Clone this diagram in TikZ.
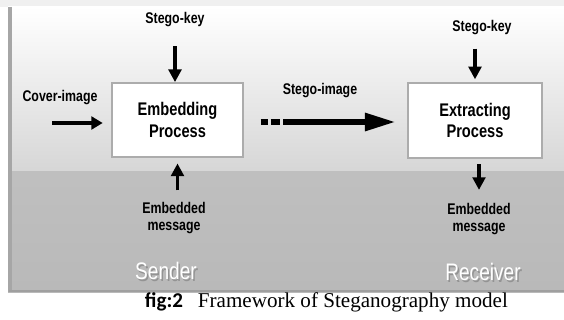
\documentclass[tikz,border=0pt]{standalone}
\usepackage{fontspec}
\usetikzlibrary{arrows.meta,shadows}
\newfontfamily\labfont[FakeStretch=0.8]{Liberation Sans}
\newfontfamily\capserif{Liberation Serif}
\newfontfamily\capsans{Carlito}

\begin{document}
\begin{tikzpicture}[
		x=0.025cm, y=-0.025cm,
		proc/.style={draw=gray!65, line width=1.2pt, fill=white,
			drop shadow={opacity=0.35, shadow xshift=0.8pt, shadow yshift=-0.8pt},
			align=center, font=\labfont\bfseries\fontsize{13}{15}\selectfont},
		lab/.style={align=center, font=\labfont\bfseries\fontsize{11}{12}\selectfont},
		side/.style={text=white, font=\labfont\fontsize{17}{19}\selectfont},
		sideshadow/.style={text=gray!85, font=\labfont\fontsize{17}{19}\selectfont},
		keyarrow/.style={line width=2.3pt, -{Triangle[length=9pt, width=9pt]}},
		coverarrow/.style={line width=2.8pt, -{Triangle[length=8pt, width=9pt]}},
		stegoarrow/.style={line width=4.3pt, -{Triangle[length=22pt, width=12pt]},
			dash pattern=on 5pt off 2pt on 7pt off 2pt on 400pt off 0pt},
		]
		\useasboundingbox (0,0) rectangle (564,320);
		
		%panel
		\fill[gray!12] (0,0) rectangle (564,7);
		\shade[top color=white, bottom color=gray!32] (8,7) rectangle (564,172);
		\shade[top color=gray!50, bottom color=gray!55] (8,172) rectangle (564,292);
		\draw[gray!70, line width=2.2pt] (10,7) -- (10,292);
		\draw[gray!75, line width=1.5pt] (9,291) -- (564,291);
		
		%processes
		\node[proc, minimum width=3.275cm, minimum height=1.85cm] (emb) at (177.5,120) {Embedding\\Process};
		\node[proc, minimum width=3.35cm, minimum height=1.875cm] (ext) at (475,120.5) {Extracting\\Process};
		
		%labels
		\node[lab] (key1) at (175,20) {Stego-key};
		\node[lab] (key2) at (482,28) {Stego-key};
		\node[lab] (cover) at (60,98) {Cover-image};
		\node[lab] (stego) at (320,91) {Stego-image};
		\node[lab] (msg1) at (174,218) {Embedded\\message};
		\node[lab] (msg2) at (479,219) {Embedded\\message};
		\coordinate (cin) at (52,123);
		
		%arrows
		\draw[keyarrow, shorten <=10pt] (key1) -- (key1 |- emb.north);
		\draw[keyarrow, shorten <=6pt, shorten >=2pt] (key2.south -| ext.north) -- (ext.north);
		\draw[coverarrow, shorten >=6pt] (cin) -- (emb.west |- cin);
		\draw[stegoarrow, shorten <=12pt, shorten >=8pt] (emb.east |- 0,122) -- (ext.west |- 0,122);
		\draw[keyarrow, shorten <=5pt, shorten >=4pt] (msg1.north -| emb.south) -- (emb.south);
		\draw[keyarrow, shorten <=4pt, shorten >=6pt] (ext.south -| msg2.north) -- (msg2.north);
		
		%sender and receiver
		\node[sideshadow] at (167.5,272.5) {Sender};
		\node[side] (send) at (166,271) {Sender};
		\node[sideshadow] at (484.5,273.5) {Receiver};
		\node[side] (recv) at (483,272) {Receiver};
		
		%caption
		\node[anchor=base west, font=\capsans\bfseries\fontsize{15}{17}\selectfont] (fig) at (140,307) {fig:2};
		\node[anchor=base west, font=\capserif\fontsize{15}{17}\selectfont] (title) at (193,307) {Framework of Steganography model};
	\end{tikzpicture}
\end{document}
